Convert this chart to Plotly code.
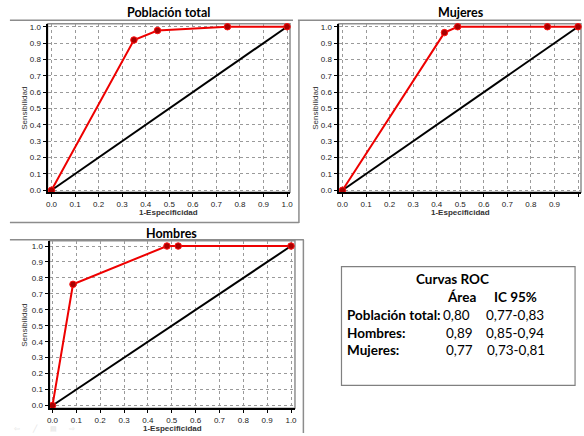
import plotly.graph_objects as go

W, H = 584, 436

# ---- data ----
titles = ["Población total", "Mujeres", "Hombres"]
total_fpr = [0.0, 0.35, 0.45, 0.747, 1.0]
total_sens = [0.0, 0.919, 0.977, 1.0, 1.0]
mujeres_fpr = [0.0, 0.433, 0.489, 0.87, 1.0]
mujeres_sens = [0.0, 0.964, 1.0, 1.0, 1.0]
hombres_fpr = [0.0, 0.086, 0.48, 0.527, 1.0]
hombres_sens = [0.0, 0.76, 1.0, 1.0, 1.0]
diag = [0.0, 1.0]
tick_vals = [0.0, 0.1, 0.2, 0.3, 0.4, 0.5, 0.6, 0.7, 0.8, 0.9, 1.0]

table_title = "Curvas ROC"
table_head = ["Área", "IC 95%"]
table_rows = ["Población total:", "Hombres:", "Mujeres:"]
table_area = ["0,80", "0,89", "0,77"]
table_ic = ["0,77-0,83", "0,85-0,94", "0,73-0,81"]


def px(x):
    return x / W


def py(y):
    return 1 - y / H


# panel geometry in pixels: (left, right, top, bottom), ranges
panels = [
    dict(fpr=total_fpr, sens=total_sens, dom=(45, 290, 23, 193),
         xr=[-0.0168, 1.0126], yr=[-0.012, 1.018], title=(167, 12), xt=(167, 213.5), yt=(21, 108)),
    dict(fpr=mujeres_fpr, sens=mujeres_sens, dom=(339, 584, 23, 193),
         xr=[-0.0168, 1.0126], yr=[-0.012, 1.018], title=(463, 12), xt=(462, 213.5), yt=(315, 108)),
    dict(fpr=hombres_fpr, sens=hombres_sens, dom=(47, 295, 242, 411),
         xr=[-0.0124, 1.0166], yr=[-0.017, 1.033], title=(170, 235), xt=(171, 431.5), yt=(21, 327)),
]

fig = go.Figure()
annotations = []
shapes = []
tick_font = dict(family="Liberation Sans, Arial", size=8, color="#222222")

for i, p in enumerate(panels):
    n = "" if i == 0 else str(i + 1)
    xa = "x" + n
    ya = "y" + n
    fig.add_trace(go.Scatter(x=diag, y=diag, mode="lines", xaxis=xa, yaxis=ya,
                             line=dict(color="black", width=2), showlegend=False,
                             hoverinfo="skip"))
    fig.add_trace(go.Scatter(x=p["fpr"], y=p["sens"], mode="lines+markers", xaxis=xa, yaxis=ya,
                             line=dict(color="#ee0000", width=2),
                             marker=dict(size=6.5, color="#a80000", line=dict(color="#ff1010", width=1)),
                             showlegend=False, cliponaxis=False))
    l, r, t, b = p["dom"]
    axis_common = dict(
        showgrid=True, gridcolor="#9a9a9a", griddash="dot", gridwidth=1,
        zeroline=False, showline=True, linecolor="black", linewidth=2,
        ticks="outside", ticklen=3, tickcolor="black", tickwidth=1,
        tickvals=tick_vals, tickformat=".1f", tickfont=tick_font,
    )
    fig.update_layout(**{
        ("xaxis" + n): dict(domain=[px(l), px(r)], range=p["xr"], anchor=ya, **axis_common),
        ("yaxis" + n): dict(domain=[py(b), py(t)], range=p["yr"], anchor=xa, **axis_common),
    })
    shapes.append(dict(type="rect", xref=xa + " domain", yref=ya + " domain", x0=0, x1=1, y0=0, y1=1,
                       line=dict(color="#8f8f8f", width=1.5), layer="below"))
    annotations.append(dict(text="<b>" + titles[i] + "</b>", x=px(p["title"][0]), y=py(p["title"][1]),
                            xref="paper", yref="paper", showarrow=False, xanchor="center", yanchor="middle",
                            font=dict(family="Lato", size=12.5, color="black")))
    annotations.append(dict(text="<b>1-Especificidad</b>", x=px(p["xt"][0]), y=py(p["xt"][1]),
                            xref="paper", yref="paper", showarrow=False, xanchor="center", yanchor="middle",
                            borderpad=0,
                            font=dict(family="Liberation Sans, Arial", size=8, color="#333333")))
    annotations.append(dict(text="Sensibilidad", x=px(p["yt"][0]), y=py(p["yt"][1]), textangle=-90,
                            xref="paper", yref="paper", showarrow=False, xanchor="center", yanchor="middle",
                            font=dict(family="Liberation Sans Narrow, Liberation Sans, Arial", size=8,
                                      color="#333333")))

# separator lines of the original slide
sep = "#8c8c8c"
for (x0, y0, x1, y1) in [(7, 19.5, 293, 19.5), (298, 19.5, 584, 19.5), (299, 19.5, 299, 224),
                         (7, 223.5, 299, 223.5), (7, 241, 304, 241), (303.5, 241, 303.5, 436)]:
    shapes.append(dict(type="line", xref="paper", yref="paper", x0=px(x0), y0=py(y0), x1=px(x1), y1=py(y1),
                       line=dict(color=sep, width=1.5)))

# table box
shapes.append(dict(type="rect", xref="paper", yref="paper", x0=px(342), x1=px(578), y0=py(388), y1=py(268),
                   line=dict(color="#808080", width=1.2)))

tfont_b = dict(family="Lato", size=13.5, color="black")
tfont = dict(family="Lato", size=13.5, color="black")


def ann(text, x, y, anchor="left", font=tfont, pad=1):
    annotations.append(dict(text=text, x=px(x), y=py(y), xref="paper", yref="paper", showarrow=False,
                            xanchor=anchor, yanchor="middle", font=font, borderpad=pad))


ann("<b>" + table_title + "</b>", 454, 281, "center", tfont_b)
ann("<b>" + table_head[0] + "</b>", 463, 299, "center", tfont_b)
ann("<b>" + table_head[1] + "</b>", 518, 299, "center", tfont_b)
row_y = [317, 335, 352]
area_right = [474, 477, 477]
ic_left = [486, 486, 487]
for k in range(3):
    ann("<b>" + table_rows[k] + "</b>", 346, row_y[k], "left", tfont_b)
    ann(table_area[k], area_right[k], row_y[k], "right", tfont)
    ann(table_ic[k], ic_left[k], row_y[k], "left", tfont)

# faint slideshow icons
for sym, x in [("⇦", 14), ("╱", 32), ("▤", 51), ("⇨", 70)]:
    ann(sym, x, 431.5, "center", dict(family="DejaVu Sans", size=7, color="#e2e2e2"), pad=0)

fig.update_layout(width=W, height=H, margin=dict(l=0, r=0, t=0, b=0),
                  paper_bgcolor="white", plot_bgcolor="white",
                  annotations=annotations, shapes=shapes)

fig.write_html("out.html", config={"displayModeBar": False},
               post_script="document.body.style.margin='0';document.body.style.overflow='hidden';")
